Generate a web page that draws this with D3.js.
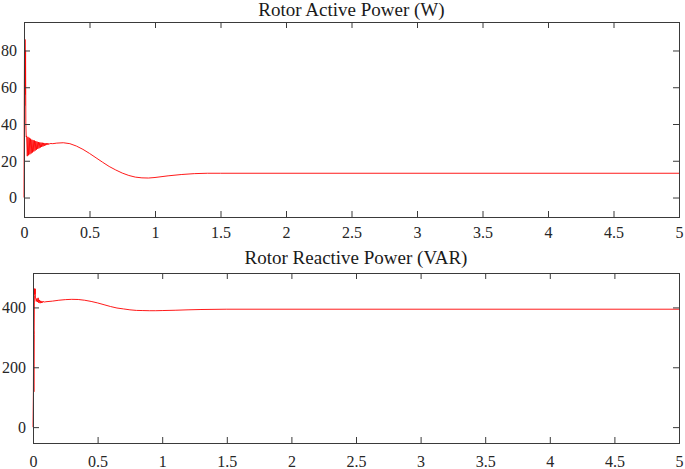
<!DOCTYPE html>
<html>
<head>
<meta charset="utf-8">
<script src="https://cdn.jsdelivr.net/npm/d3@7"></script>
<style>
  body { margin: 0; background: #fff; }
  svg { display: block; }
</style>
</head>
<body>
<svg id="chart" width="685" height="469"></svg>
<script>
// x ticks shared by both panels (time, s)
const timeTicks = [0, 0.5, 1, 1.5, 2, 2.5, 3, 3.5, 4, 4.5, 5];

// rotor active power (W): [t, value]
const activePower = [
  [0, 0], [0.002, 50], [0.004, 84], [0.006, 50], [0.008, 86], [0.010, 56], [0.012, 80], [0.014, 40], [0.017, 33],
  [0.020, 33.5], [0.025, 22.5], [0.030, 33], [0.035, 23], [0.040, 32.5], [0.045, 23.5], [0.050, 32], [0.055, 24],
  [0.060, 31.5], [0.065, 24.5], [0.070, 31.2], [0.075, 25], [0.080, 31], [0.085, 25.5], [0.090, 30.7], [0.095, 26],
  [0.100, 30.4], [0.105, 26.4], [0.110, 30.2], [0.115, 26.8], [0.120, 30], [0.125, 27.2], [0.130, 29.9], [0.135, 27.5],
  [0.140, 29.8], [0.145, 27.8], [0.150, 29.7], [0.155, 28.1], [0.160, 29.6], [0.165, 28.4], [0.170, 29.6], [0.175, 28.6],
  [0.180, 29.5], [0.185, 28.8], [0.190, 29.5], [0.195, 29], [0.200, 29.4],
  [0.22, 29.3], [0.25, 29.6], [0.3, 29.8], [0.35, 29.3], [0.4, 28], [0.45, 26.2], [0.5, 24], [0.55, 21.6], [0.6, 19.2],
  [0.65, 16.9], [0.7, 15], [0.75, 13.3], [0.8, 12], [0.85, 11.1], [0.9, 10.7], [0.95, 10.6], [1.0, 10.9], [1.1, 11.8],
  [1.2, 12.5], [1.3, 13], [1.4, 13.2], [1.5, 13.2], [5, 13.2]
];
const activeTicks = [0, 20, 40, 60, 80];

// rotor reactive power (VAR): [t, value]
const reactivePower = [
  [0, 0], [0.003, 115], [0.005, 320], [0.007, 118], [0.009, 310], [0.011, 440], [0.013, 463], [0.015, 445],
  [0.017, 462], [0.019, 430], [0.022, 428], [0.025, 420], [0.030, 430], [0.035, 418], [0.040, 432], [0.045, 415],
  [0.050, 425], [0.055, 414], [0.060, 422], [0.065, 415], [0.070, 421], [0.075, 416], [0.080, 420], [0.09, 418],
  [0.1, 419], [0.15, 421], [0.2, 424], [0.25, 426], [0.3, 427], [0.35, 426.5], [0.4, 424], [0.45, 420], [0.5, 415],
  [0.55, 409], [0.6, 403], [0.65, 398], [0.7, 395], [0.75, 392], [0.8, 390], [0.85, 389.5], [0.9, 389], [0.95, 389],
  [1.0, 389.5], [1.1, 390.5], [1.2, 392], [1.3, 393], [1.5, 394], [5, 394]
];
const reactiveTicks = [0, 200, 400];

const serif = '"Liberation Serif", "Times New Roman", serif';
const svg = d3.select('#chart');

const panels = [
  { title: 'Rotor Active Power (W)', data: activePower, ticks: activeTicks,
    box: { left: 24, right: 679, top: 22, bottom: 217 }, yDomain: [-10.6, 95.5], titleY: 16, labelY: 238 },
  { title: 'Rotor Reactive Power (VAR)', data: reactivePower, ticks: reactiveTicks,
    box: { left: 33, right: 679, top: 273, bottom: 443 }, yDomain: [-53, 515], titleY: 264, labelY: 467 }
];

panels.forEach(p => drawPanel(p));

function drawPanel(p) {
  const b = p.box;
  const x = d3.scaleLinear().domain([0, 5]).range([b.left, b.right]);
  const y = d3.scaleLinear().domain(p.yDomain).range([b.bottom, b.top]);
  const axisColor = '#3a3a3a';
  const tickLen = 6;

  const g = svg.append('g');

  // data line
  g.append('path')
    .datum(p.data)
    .attr('fill', 'none')
    .attr('stroke', '#ff0000')
    .attr('stroke-width', 0.9)
    .attr('d', d3.line().x(d => x(d[0])).y(d => y(d[1])));

  // bottom axis, inward ticks
  const xAxisB = g.append('g').attr('transform', `translate(0,${b.bottom})`)
    .call(d3.axisBottom(x).tickValues(timeTicks).tickSizeInner(-tickLen).tickSizeOuter(0).tickFormat(d3.format('')));
  xAxisB.selectAll('text').attr('y', p.labelY - b.bottom).attr('dy', null);

  // top axis mirror
  g.append('g').attr('transform', `translate(0,${b.top})`)
    .call(d3.axisTop(x).tickValues(timeTicks).tickSizeInner(-tickLen).tickSizeOuter(0).tickFormat(''));

  // left axis
  const yAxisL = g.append('g').attr('transform', `translate(${b.left},0)`)
    .call(d3.axisLeft(y).tickValues(p.ticks).tickSizeInner(-tickLen).tickSizeOuter(0));
  yAxisL.selectAll('text').attr('x', -7).attr('dy', '0.34em');

  // right axis mirror
  g.append('g').attr('transform', `translate(${b.right},0)`)
    .call(d3.axisRight(y).tickValues(p.ticks).tickSizeInner(-tickLen).tickSizeOuter(0).tickFormat(''));

  g.selectAll('.domain').remove();
  g.selectAll('.tick line').attr('stroke', axisColor);
  g.selectAll('.tick text')
    .attr('font-family', serif)
    .attr('font-size', 16)
    .attr('fill', '#262626');

  // box
  g.append('rect')
    .attr('x', b.left + 0.5).attr('y', b.top + 0.5)
    .attr('width', b.right - b.left).attr('height', b.bottom - b.top)
    .attr('fill', 'none').attr('stroke', axisColor).attr('stroke-width', 1);

  g.append('text')
    .attr('x', (b.left + b.right) / 2)
    .attr('y', p.titleY)
    .attr('text-anchor', 'middle')
    .attr('font-family', serif)
    .attr('font-size', 19)
    .attr('fill', '#1a1a1a')
    .text(p.title);
}
</script>
</body>
</html>
